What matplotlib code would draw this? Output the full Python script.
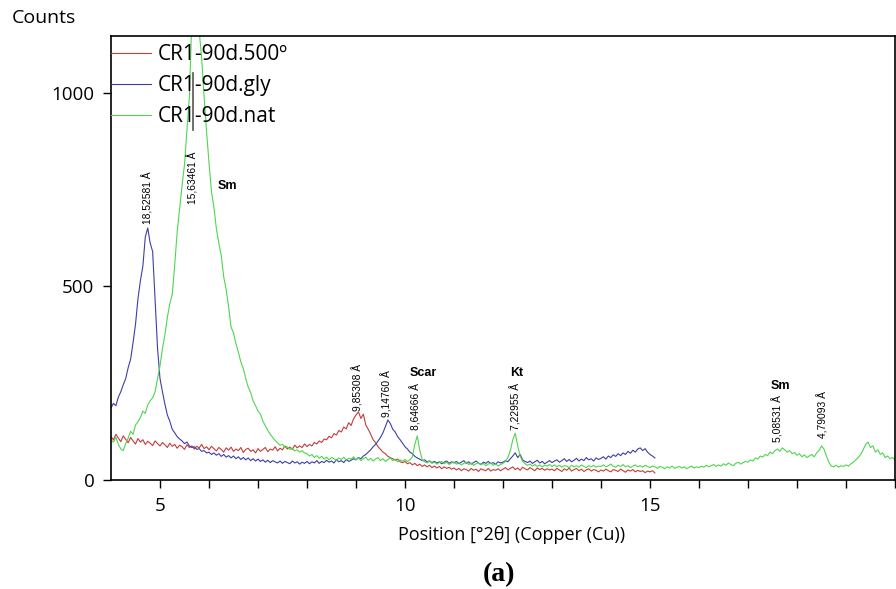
import numpy as np
import matplotlib
matplotlib.use("Agg")
import matplotlib.pyplot as plt

# scan grid: start 4.00 deg, step 0.05 deg
scan_start = 4.0
scan_step = 0.05

# CR1-90d.500º counts (4.00 .. 15.10)
counts_500 = [
    112, 104, 118, 108, 99, 114, 105, 96, 110, 101, 93, 107, 98, 104, 92, 100, 95, 89, 101, 94,
    88, 97, 91, 84, 95, 87, 92, 82, 90, 86, 79, 91, 84, 88, 80, 87, 83, 92, 81, 86,
    78, 87, 81, 75, 84, 79, 72, 83, 77, 85, 74, 80, 76, 84, 71, 79, 82, 74, 78, 70,
    81, 74, 79, 84, 73, 80, 77, 86, 75, 82, 78, 88, 80, 85, 79, 90, 83, 88, 84, 93,
    86, 92, 88, 97, 93, 101, 97, 106, 104, 113, 109, 120, 116, 128, 124, 137, 132, 148, 141, 158,
    168, 176, 159, 170, 142, 131, 118, 104, 96, 86, 79, 72, 68, 61, 58, 55, 51, 54, 47, 45,
    48, 42, 45, 39, 43, 37, 41, 35, 39, 34, 38, 32, 36, 31, 35, 29, 34, 30, 33, 28,
    31, 26, 30, 24, 29, 27, 23, 30, 25, 28, 22, 29, 26, 24, 30, 23, 27, 25, 29, 24,
    28, 32, 26, 30, 34, 27, 31, 25, 33, 29, 26, 32, 28, 24, 31, 27, 30, 25, 29, 26,
    28, 24, 30, 26, 22, 29, 25, 31, 23, 27, 30, 24, 28, 22, 26, 29, 23, 27, 25, 21,
    26, 23, 28, 24, 21, 27, 25, 22, 28, 24, 20, 26, 23, 27, 21, 25, 22, 24, 19, 23,
    21, 24, 18,
]

# CR1-90d.gly counts (4.00 .. 15.10)
counts_gly = [
    186, 198, 192, 214, 228, 246, 262, 290, 312, 355, 402, 468, 515, 552, 628, 651, 612, 590, 465, 340,
    262, 228, 196, 168, 152, 131, 122, 112, 106, 101, 94, 98, 88, 84, 86, 79, 81, 74, 76, 70,
    72, 66, 70, 64, 68, 61, 66, 59, 63, 57, 62, 55, 60, 53, 58, 52, 57, 50, 55, 49,
    54, 48, 52, 46, 51, 45, 50, 47, 44, 49, 43, 48, 45, 42, 49, 44, 47, 41, 46, 43,
    48, 42, 47, 44, 50, 43, 48, 45, 51, 46, 49, 44, 52, 47, 50, 45, 53, 48, 51, 55,
    52, 58, 55, 62, 66, 72, 78, 86, 92, 101, 110, 122, 138, 155, 146, 131, 124, 112, 104, 95,
    86, 80, 72, 68, 61, 57, 54, 50, 52, 47, 49, 45, 48, 44, 47, 42, 46, 49, 43, 47,
    44, 48, 42, 46, 50, 43, 47, 41, 45, 49, 44, 40, 46, 43, 48, 42, 45, 41, 47, 44,
    46, 50, 47, 55, 62, 70, 58, 66, 52, 48, 45, 49, 43, 47, 51, 44, 48, 42, 46, 50,
    45, 49, 52, 46, 50, 55, 48, 53, 47, 51, 56, 49, 54, 50, 58, 52, 55, 49, 57, 53,
    56, 60, 54, 62, 58, 65, 61, 68, 63, 70, 66, 74, 69, 77, 72, 80, 83, 76, 81, 72,
    66, 62, 57,
]

# CR1-90d.nat counts (4.00 .. 20.00)
counts_nat = [
    104, 98, 110, 92, 80, 76, 94, 108, 126, 118, 142, 150, 162, 178, 172, 194, 205, 212, 228, 262,
    295, 340, 375, 420, 455, 480, 555, 640, 700, 760, 815, 905, 990, 1190, 1175, 1185, 1160, 1090, 990, 900,
    820, 745, 705, 650, 612, 580, 525, 492, 448, 395, 380, 352, 330, 305, 288, 262, 240, 226, 205, 192,
    178, 170, 152, 140, 128, 118, 110, 102, 96, 90, 92, 84, 86, 79, 82, 75, 78, 72, 76, 70,
    68, 62, 66, 58, 63, 56, 61, 54, 59, 52, 58, 55, 50, 57, 53, 59, 51, 56, 54, 60,
    52, 57, 50, 55, 59, 51, 56, 49, 54, 58, 50, 55, 48, 53, 57, 50, 54, 47, 52, 49,
    53, 48, 52, 60, 92, 114, 78, 52, 47, 44, 49, 43, 46, 41, 45, 48, 42, 46, 40, 44,
    47, 41, 45, 39, 43, 46, 40, 44, 38, 42, 45, 39, 43, 37, 41, 44, 38, 42, 36, 40,
    43, 48, 58, 76, 104, 121, 88, 62, 48, 42, 38, 41, 36, 40, 35, 39, 34, 38, 36, 40,
    35, 39, 34, 38, 33, 37, 36, 32, 38, 34, 37, 33, 39, 35, 32, 37, 34, 38, 33, 36,
    35, 39, 34, 37, 41, 36, 33, 38, 35, 40, 34, 37, 32, 36, 39, 34, 37, 33, 38, 35,
    32, 36, 34, 30, 35, 33, 29, 34, 31, 36, 30, 33, 35, 31, 34, 29, 33, 36, 31, 34,
    32, 36, 33, 38, 34, 37, 40, 35, 39, 36, 42, 38, 44, 40, 37, 43, 46, 41, 45, 48,
    46, 52, 49, 57, 54, 62, 59, 66, 63, 72, 68, 76, 80, 74, 83, 78, 72, 76, 68, 71,
    64, 68, 60, 65, 58, 62, 66, 60, 70, 76, 88, 80, 62, 46, 36, 34, 38, 33, 37, 35,
    39, 36, 42, 46, 52, 58, 66, 78, 92, 98, 84, 88, 72, 78, 66, 70, 58, 62, 55, 58,
    52,
]

series_names = ["CR1-90d.500º", "CR1-90d.gly", "CR1-90d.nat"]
series_colors = ["#c43c3c", "#3e3ea6", "#4fd64f"]

# peak labels: (2theta, bottom of text, text)
peak_labels = [
    (4.76, 662, "18,52581 Å"),
    (5.67, 712, "15,63461 Å"),
    (9.04, 178, "9,85308 Å"),
    (9.63, 163, "9,14760 Å"),
    (10.22, 130, "8,64666 Å"),
    (12.27, 130, "7,22955 Å"),
    (17.61, 97, "5,08531 Å"),
    (18.53, 108, "4,79093 Å"),
]
mineral_labels = [(6.37, 760, "Sm"), (10.37, 276, "Scar"), (12.27, 276, "Kt"), (17.67, 244, "Sm")]

W, H = 896, 589
fig = plt.figure(figsize=(W / 100, H / 100), dpi=100)
ax = fig.add_axes([111 / W, 1 - 480 / H, (895 - 111) / W, (480 - 36) / H])

ui_font = ["Open Sans", "DejaVu Sans"]

for vals, name, col in zip([counts_500, counts_gly, counts_nat], series_names, series_colors):
    x = scan_start + scan_step * np.arange(len(vals))
    ax.plot(x, vals, color=col, lw=0.8, label=name)

# peak marker of the main Sm reflection
ax.plot([5.67, 5.67], [905, 1052], color="#555555", lw=1.2)

for x, y, txt in peak_labels:
    ax.text(x, y, txt, rotation=90, ha="center", va="bottom", fontsize=7.4,
            family=["Liberation Sans", "DejaVu Sans"])
for x, y, txt in mineral_labels:
    ax.text(x, y, txt, ha="center", va="center", fontsize=9, fontweight="bold",
            family=["Liberation Sans", "DejaVu Sans"])

ax.set_xlim(4, 20)
ax.set_ylim(0, 1147)
ax.set_xticks(range(5, 21))
ax.set_xticklabels(["5" if t == 5 else "10" if t == 10 else "15" if t == 15 else "" for t in range(5, 21)])
ax.set_yticks([0, 500, 1000])
ax.tick_params(direction="out", length=6, width=1, pad=6, labelsize=13.5)
for lab in ax.get_xticklabels() + ax.get_yticklabels():
    lab.set_family(ui_font)
for sp in ax.spines.values():
    sp.set_linewidth(1.2)

leg = ax.legend(loc="upper left", bbox_to_anchor=(-6 / 784, 1.0 - 2 / 444), borderaxespad=0.0,
                borderpad=0.3, frameon=False, handlelength=1.9, handletextpad=0.33,
                labelspacing=0.48, prop={"family": ui_font, "size": 15})

fig.text(12 / W, 1 - 18 / H, "Counts", ha="left", va="center", fontsize=14, family=ui_font)
fig.text(512 / W, 1 - 535 / H, "Position [°2θ] (Copper (Cu))", ha="center", va="center",
         fontsize=13, family=ui_font)
fig.text(499 / W, 1 - 575 / H, "(a)", ha="center", va="center", fontsize=20, fontweight="bold",
         family=["Liberation Serif", "DejaVu Serif"])

fig.savefig("out.png", dpi=100)
